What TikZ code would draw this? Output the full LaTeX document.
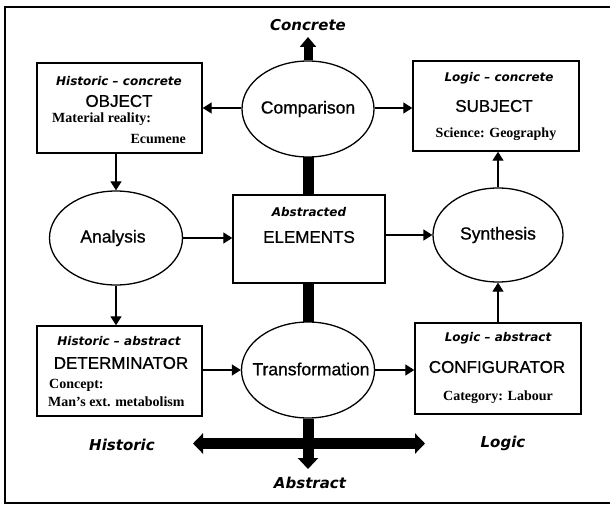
\documentclass[tikz,border=0pt]{standalone}
\usepackage{fontspec}
\setmainfont{Liberation Serif}
\setsansfont{Liberation Sans}
\newfontfamily\labfont{DejaVu Sans}
\newfontfamily\titfont[FakeBold=0.8]{Liberation Sans}
\usetikzlibrary{shapes.geometric,arrows.meta}
\pgfdeclarelayer{bg}
\pgfsetlayers{bg,main}
\begin{document}
\begin{tikzpicture}[x=1bp,y=-1bp,
  box/.style={draw, line width=1.4bp, fill=white, inner sep=0, minimum width=#1},
  box/.default=165bp,
  oval/.style={draw, ellipse, line width=1.3bp, fill=white, inner sep=0},
  otext/.style={inner sep=0, font=\titfont\fontsize{17.5bp}{20bp}\selectfont},
  titl/.style={inner sep=0, font=\titfont\fontsize{17bp}{20bp}\selectfont},
  subt/.style={inner sep=0, font=\labfont\bfseries\itshape\fontsize{12bp}{15bp}\selectfont},
  note/.style={inner sep=0, font=\rmfamily\bfseries\fontsize{14bp}{16bp}\selectfont},
  axlab/.style={inner sep=0, font=\labfont\bfseries\itshape\fontsize{15bp}{18bp}\selectfont},
  arr/.style={-{Triangle[length=9bp,width=11bp]}, line width=1.3bp},
  big/.style={line width=11bp},
  bighead/.style={-{Triangle[length=11bp,width=20bp]}}
]
\useasboundingbox (0,0) rectangle (610,505);
% frame
\draw[line width=2bp] (610,7) -- (5,7) -- (5,503) -- (610,503);

% boxes
\node[box, minimum height=90bp] (obj) at (119.5,108) {};
\node[box=166bp, minimum height=90bp] (sub) at (496,106) {};
\node[box=152bp, minimum height=88bp] (elem) at (309,239) {};
\node[box, minimum height=90bp] (det) at (119.5,371) {};
\node[box=166bp, minimum height=91bp] (cfg) at (498,368.5) {};

% ellipses
\node[oval, minimum width=132bp, minimum height=96bp] (cmp) at (308,109) {};
\node[oval, minimum width=133bp, minimum height=94bp] (ana) at (116,238) {};
\node[oval, minimum width=130bp, minimum height=94bp] (syn) at (498,235) {};
\node[oval, minimum width=133bp, minimum height=96bp] (trf) at (308,370) {};

\node[otext] (cmpT) at (cmp) {Comparison};
\node[otext] (anaT) at (113,238) {Analysis};
\node[otext] (synT) at (498,235) {Synthesis};
\node[otext] (trfT) at (311,369) {Transformation};

% box texts
\node[subt] (objA) at (119,81) {Historic – concrete};
\node[titl] (objB) at (119,101) {OBJECT};
\node[note, anchor=west] (objC) at (52,119) {Material reality:};
\node[note, anchor=east] (objD) at (186,139) {Ecumene};

\node[subt] (subA) at (499,78) {Logic – concrete};
\node[titl] (subB) at (494,106) {SUBJECT};
\node[note] (subC) at (496,134) {Science: Geography};

\node[subt] (elA) at (309,212) {Abstracted};
\node[titl] (elB) at (309,237) {ELEMENTS};

\node[subt] (detA) at (119,341) {Historic – abstract};
\node[titl] (detB) at (121,363) {DETERMINATOR};
\node[note, anchor=west] (detC) at (49,385) {Concept:};
\node[note, anchor=west] (detD) at (48,402) {Man’s ext. metabolism};

\node[subt] (cfgA) at (498,338) {Logic – abstract};
\node[titl] (cfgB) at (497,367) {CONFIGURATOR};
\node[note] (cfgC) at (498,397) {Category: Labour};

% axis labels
\node[axlab] (lConc) at (308,25) {Concrete};
\node[axlab] (lAbs) at (310,483) {Abstract};
\node[axlab] (lHist) at (122,445) {Historic};
\node[axlab] (lLog) at (503,443) {Logic};

% thick axes
\coordinate (ctop) at (308,37);
\coordinate (cbot) at (308,469);
\coordinate (hl) at (193,443.5);
\coordinate (hr) at (425,443.5);
\begin{pgfonlayer}{bg}
\draw[big] (cmp.center) -- (trf.center);
\end{pgfonlayer}
\draw[line width=9bp, -{Triangle[length=10bp,width=16bp]}] (cmp.north) -- (ctop);
\draw[big, bighead] (trf.south) -- (cbot);
\draw[big, {Triangle[length=10bp,width=20bp]}-{Triangle[length=10bp,width=20bp]}] (hl) -- (hr);

% thin arrows
\draw[arr] (cmp.west |- obj.east) -- (obj.east);
\draw[arr] (cmp.east |- obj.east) -- (sub.west |- obj.east);
\draw[arr] (ana.north |- obj.south) -- (ana.north);
\draw[arr] (ana.south) -- (ana.south |- det.north);
\draw[arr] (ana.east) -- (ana.east -| elem.west);
\draw[arr] (elem.east |- syn.west) -- (syn.west);
\draw[arr] (syn.north) -- (syn.north |- sub.south);
\draw[arr] (det.east |- trf.west) -- (trf.west);
\draw[arr] (trf.east) -- (trf.east -| cfg.west);
\draw[arr] (cfg.north) -- (cfg.north |- syn.south);
\end{tikzpicture}
\end{document}
